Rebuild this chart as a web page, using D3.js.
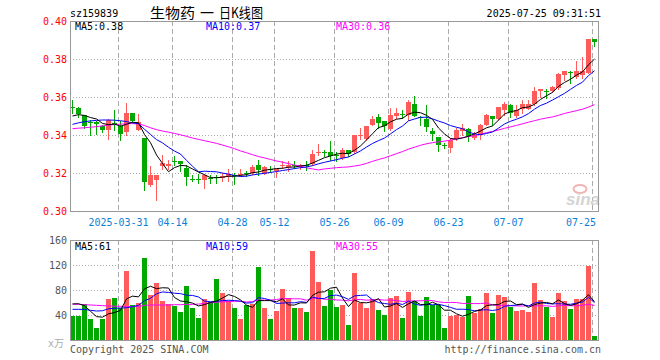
<!DOCTYPE html>
<html><head><meta charset="utf-8">
<script src="https://cdn.jsdelivr.net/npm/d3@7"></script>
<style>body{margin:0;background:#fff}svg{display:block}</style>
</head><body>
<svg id="c" width="660" height="360"></svg>
<script>
const dates = [
"2025-03-19","2025-03-20","2025-03-21","2025-03-24","2025-03-25","2025-03-26","2025-03-27","2025-03-28","2025-03-31",
"2025-04-01","2025-04-02","2025-04-03","2025-04-07","2025-04-08","2025-04-09","2025-04-10","2025-04-11","2025-04-14","2025-04-15","2025-04-16","2025-04-17","2025-04-18","2025-04-21","2025-04-22","2025-04-23","2025-04-24","2025-04-25","2025-04-28","2025-04-29","2025-04-30",
"2025-05-06","2025-05-07","2025-05-08","2025-05-09","2025-05-12","2025-05-13","2025-05-14","2025-05-15","2025-05-16","2025-05-19","2025-05-20","2025-05-21","2025-05-22","2025-05-23","2025-05-26","2025-05-27","2025-05-28","2025-05-29","2025-05-30",
"2025-06-03","2025-06-04","2025-06-05","2025-06-06","2025-06-09","2025-06-10","2025-06-11","2025-06-12","2025-06-13","2025-06-16","2025-06-17","2025-06-18","2025-06-19","2025-06-20","2025-06-23","2025-06-24","2025-06-25","2025-06-26","2025-06-27","2025-06-30",
"2025-07-01","2025-07-02","2025-07-03","2025-07-04","2025-07-07","2025-07-08","2025-07-09","2025-07-10","2025-07-11","2025-07-14","2025-07-15","2025-07-16","2025-07-17","2025-07-18","2025-07-21","2025-07-22","2025-07-23","2025-07-24","2025-07-25"];

const opens = [.3545,.3542,.3503,.3468,.3468,.3449,.3424,.3465,.3449,.3414,.3514,.3428,.3382,.3138,.3161,.3235,.3235,.3262,.3261,.3224,
.3171,.3171,.3161,.3174,.3180,.3173,.3179,.3187,.3187,.3201,.3200,.3244,.3196,.3220,.3212,.3238,.3229,.3241,.3235,.3241,
.3247,.3308,.3311,.3310,.3296,.3279,.3322,.3310,.3399,.3380,.3454,.3496,.3475,.3433,.3498,.3512,.3507,.3563,.3494,.3482,
.3422,.3391,.3345,.3331,.3379,.3422,.3433,.3384,.3398,.3451,.3501,.3486,.3533,.3556,.3501,.3537,.3535,.3563,.3630,.3632,
.3630,.3647,.3717,.3730,.3703,.3714,.3728,.3907];
const highs = [.3585,.3545,.3505,.3480,.3475,.3452,.3486,.3533,.3472,.3566,.3516,.3510,.3382,.3235,.3191,.3293,.3266,.3289,.3261,.3244,
.3187,.3196,.3196,.3189,.3191,.3201,.3222,.3200,.3223,.3212,.3244,.3270,.3235,.3235,.3221,.3261,.3261,.3261,.3249,.3261,
.3322,.3352,.3322,.3366,.3310,.3331,.3322,.3401,.3437,.3445,.3498,.3510,.3475,.3542,.3542,.3533,.3586,.3607,.3498,.3556,
.3437,.3391,.3358,.3384,.3437,.3458,.3437,.3415,.3458,.3512,.3501,.3549,.3572,.3563,.3559,.3586,.3586,.3652,.3644,.3644,
.3656,.3726,.3738,.3738,.3787,.3810,.3907,.3907];
const lows = [.3516,.3493,.3437,.3401,.3407,.3415,.3379,.3428,.3372,.3398,.3470,.3425,.3112,.3130,.3058,.3222,.3222,.3244,.3208,.3135,
.3156,.3149,.3119,.3147,.3147,.3156,.3156,.3144,.3182,.3182,.3194,.3187,.3194,.3205,.3177,.3226,.3212,.3226,.3223,.3217,
.3244,.3296,.3287,.3270,.3261,.3275,.3287,.3305,.3380,.3375,.3451,.3437,.3419,.3428,.3489,.3489,.3480,.3498,.3454,.3419,
.3375,.3317,.3331,.3308,.3375,.3401,.3370,.3380,.3380,.3451,.3451,.3479,.3507,.3496,.3496,.3514,.3535,.3559,.3598,.3594,
.3624,.3642,.3691,.3673,.3700,.3700,.3725,.3866];
const closes = [.3540,.3512,.3445,.3464,.3460,.3424,.3479,.3462,.3405,.3514,.3475,.3466,.3152,.3191,.3191,.3251,.3249,.3260,.3249,.3180,
.3169,.3169,.3187,.3172,.3178,.3184,.3194,.3185,.3196,.3199,.3233,.3214,.3231,.3218,.3221,.3241,.3240,.3239,.3244,.3239,
.3300,.3311,.3309,.3289,.3288,.3322,.3300,.3401,.3401,.3445,.3486,.3463,.3445,.3507,.3514,.3510,.3573,.3498,.3492,.3444,
.3405,.3345,.3343,.3373,.3424,.3437,.3393,.3401,.3451,.3507,.3486,.3545,.3563,.3515,.3533,.3563,.3563,.3633,.3644,.3630,
.3652,.3719,.3738,.3728,.3738,.3738,.3907,.3889];
const volumes = [38.4,38.4,57.6,33.6,19.2,33.6,65.6,67.2,51.7,110.4,56,59.7,131.2,72.5,91.7,62.9,57.6,54.9,44.8,86.4,
51.2,35.2,65.6,61.3,97.6,75.7,62.9,51.2,33.6,56,57.6,116.8,51.2,33.6,46.4,81.6,67.2,51.2,51.2,44.8,
142.4,92.8,54.4,80,52.8,56,24,107.2,59.2,51.2,65.6,48,40,67.2,70.4,35.2,76.8,62.4,38.4,68.8,
56,56,19.2,38.4,40,36.8,70.4,43.2,49.6,75.2,43.2,72,68.8,52.8,46.4,48,44.8,91.2,64,52.8,
36.8,75.2,62.4,49.6,65.6,65.6,118.9,6.4];

// moving-average values for days whose window starts before the first shown day
const ma5Start  = [.3500,.3507,.3503,.3492];
const ma10Start = [.3456,.3464,.3470,.3474,.3477,.3479,.3479,.3478,.3475];
const ma30Start = [.3433,.3436,.3438,.3441,.3444,.3448,.3452,.3455,.3457,.3459,.3460,.3458,.3450,.3438,.3428,.3421,.3415,.3408,.3401,.3393,
                   .3384,.3377,.3370,.3363,.3356,.3347,.3338,.3328,.3316];
const vma5Start  = [57.6,58.1,54.9,46];
const vma10Start = [49.1,49.1,49,47.5,46.4,46.8,50,50.7,51.2];
const vma30Start = [57.6,57,56.5,56,55.5,55,54.5,54,54,53.5,53.5,53.5,55.5,56,56,56,56,56.5,56.5,57,
                    57,57.5,58.5,59.5,60.5,61,61.5,62,62];

const priceTicks = [0.30,0.32,0.34,0.36,0.38,0.40];
const priceTickLabels = ["0.30","0.32","0.34","0.36","0.38","0.40"];
const volTicks = [40,80,120,160];
const volTickLabels = ["40","80","120","160"];
const dateTicks = ["2025-03-31","2025-04-14","2025-04-28","2025-05-12","2025-05-26","2025-06-09","2025-06-23","2025-07-07","2025-07-25"];
const dateTickLabels = ["2025-03-31","04-14","04-28","05-12","05-26","06-09","06-23","07-07","07-25"];
const titleParts = ["生物药","一","日K线图"];
const priceLegend = ["MA5:0.38","MA10:0.37","MA30:0.36"];
const volLegend = ["MA5:61","MA10:59","MA30:55"];

const RED="#ff5b5b", GREEN="#00a800", GRID="#aaa", BORDER="#999";
const MONO="'DejaVu Sans Mono', 'Liberation Mono', monospace";
const CJK="'Noto Sans CJK SC', sans-serif";

const svg = d3.select("#c");
const L=70, R=598, PT=21, PB=211, VT=240, VB=340;

const x = d3.scaleBand().domain(dates).range([L, R-1]).paddingInner(1/6).paddingOuter(0);
const y = d3.scaleLinear().domain([0.30,0.40]).range([PB, PT]);
const yv = d3.scaleLinear().domain([0,160]).range([VB, VT]);

function ma(vals, n, start){
  return vals.map((v,i)=> i < start.length ? start[i] : d3.mean(vals.slice(i-n+1, i+1)));
}
const ma5 = ma(closes,5,ma5Start), ma10 = ma(closes,10,ma10Start), ma30 = ma(closes,30,ma30Start);
const vma5 = ma(volumes,5,vma5Start), vma10 = ma(volumes,10,vma10Start), vma30 = ma(volumes,30,vma30Start);

// grids
const g = svg.append("g");
priceTicks.filter(t=>t>0.30 && t<0.40).forEach(t=>{
  const yy = Math.round(y(t))+0.5;
  g.append("line").attr("x1",L).attr("x2",R).attr("y1",yy).attr("y2",yy)
   .attr("stroke",GRID).attr("stroke-dasharray","1,2");
});
volTicks.filter(t=>t<160).forEach(t=>{
  const yy = Math.round(yv(t))+0.5;
  g.append("line").attr("x1",L).attr("x2",R).attr("y1",yy).attr("y2",yy)
   .attr("stroke",GRID).attr("stroke-dasharray","1,2");
});
dateTicks.forEach(d=>{
  const xx = x(d)+0.5;
  g.append("line").attr("x1",xx).attr("x2",xx).attr("y1",PT).attr("y2",PB)
   .attr("stroke",GRID).attr("stroke-dasharray","5,3");
  g.append("line").attr("x1",xx).attr("x2",xx).attr("y1",VT).attr("y2",VB)
   .attr("stroke",GRID).attr("stroke-dasharray","5,3");
});

// sina watermark
svg.append("ellipse").attr("cx",580).attr("cy",189).attr("rx",6.5).attr("ry",4)
  .attr("fill","none").attr("stroke","#f3b4b4").attr("stroke-width",2);
svg.append("text").attr("x",566).attr("y",205).text("sina")
  .attr("font-family","'Liberation Sans', Arial, sans-serif").attr("font-weight","bold")
  .attr("font-style","italic").attr("font-size",17).attr("fill","#d4d4d4");

// candles
const cg = svg.append("g");
dates.forEach((d,i)=>{
  const o=opens[i], c=closes[i], h=highs[i], l=lows[i];
  const col = c>=o ? RED : GREEN;
  const x0 = x(d);
  const yh = Math.round(y(h)), yl = Math.round(y(l));
  cg.append("rect").attr("x",x0+2).attr("y",yh).attr("width",1).attr("height",Math.max(1,yl-yh+1)).attr("fill",col);
  const yt = Math.round(y(Math.max(o,c))), yb = Math.round(y(Math.min(o,c)));
  cg.append("rect").attr("x",x0).attr("y",yt).attr("width",x.bandwidth()).attr("height",Math.max(1,yb-yt)).attr("fill",col);
});

// volume bars
const vg = svg.append("g");
dates.forEach((d,i)=>{
  const col = closes[i]>=opens[i] ? RED : GREEN;
  const yt = Math.round(yv(volumes[i]));
  vg.append("rect").attr("x",x(d)).attr("y",yt).attr("width",x.bandwidth()).attr("height",VB-yt).attr("fill",col);
});

// MA lines
function drawLine(vals, ys, col){
  const line = d3.line().x((v,i)=>x(dates[i])+2.5).y(v=>ys(v));
  svg.append("path").attr("d",line(vals)).attr("fill","none").attr("stroke",col).attr("stroke-width",1);
}
drawLine(ma30,y,"#ff00ff"); drawLine(ma10,y,"#0000ff"); drawLine(ma5,y,"#000");
drawLine(vma30,yv,"#ff00ff"); drawLine(vma10,yv,"#0000ff"); drawLine(vma5,yv,"#000");

// borders
svg.append("rect").attr("x",L+0.5).attr("y",PT+0.5).attr("width",R-L).attr("height",PB-PT)
  .attr("fill","none").attr("stroke",BORDER);
svg.append("rect").attr("x",L+0.5).attr("y",VT+0.5).attr("width",R-L).attr("height",VB-VT)
  .attr("fill","none").attr("stroke",BORDER);

// text
function txt(s, xx, yy, col, anchor, size, fam){
  return svg.append("text").attr("x",xx).attr("y",yy).text(s).attr("fill",col)
    .attr("text-anchor",anchor||"start").attr("font-size",size||10).attr("font-family",fam||MONO);
}
priceTicks.forEach((t,i)=> txt(priceTickLabels[i], 67, y(t)+3.5, "#f00", "end"));
volTicks.forEach((t,i)=> txt(volTickLabels[i], 67, yv(t)+3.5, "#555", "end"));
dateTicks.forEach((d,i)=>{
  const last = i===dateTicks.length-1;
  txt(dateTickLabels[i], last ? x(d)+4 : x(d)+0.5, 226, "#0b7fd9", last?"end":"middle");
});
txt("sz159839", 70, 16.5, "#000");
const titleX = [150, 200, 219], titleW = [45, 14, 44];
titleParts.forEach((s,i)=> txt(s, titleX[i], 18, "#000", "start", 14, CJK)
  .attr("textLength", titleW[i]).attr("lengthAdjust","spacingAndGlyphs"));
txt("2025-07-25 09:31:51", 601, 16.5, "#000", "end");
const legX = [75, 206, 336], legC = ["#000","#0000ff","#ff00ff"];
priceLegend.forEach((s,i)=> txt(s, legX[i], 30, legC[i]));
volLegend.forEach((s,i)=> txt(s, legX[i], 250, legC[i]));
txt("x万", 48, 347, "#aaa", "start", 10, "'DejaVu Sans Mono', 'Noto Sans CJK SC', monospace");
txt("Copyright 2025 SINA.COM", 70, 353, "#555");
txt("http://finance.sina.com.cn", 601, 353, "#555", "end");
</script>
</body></html>
